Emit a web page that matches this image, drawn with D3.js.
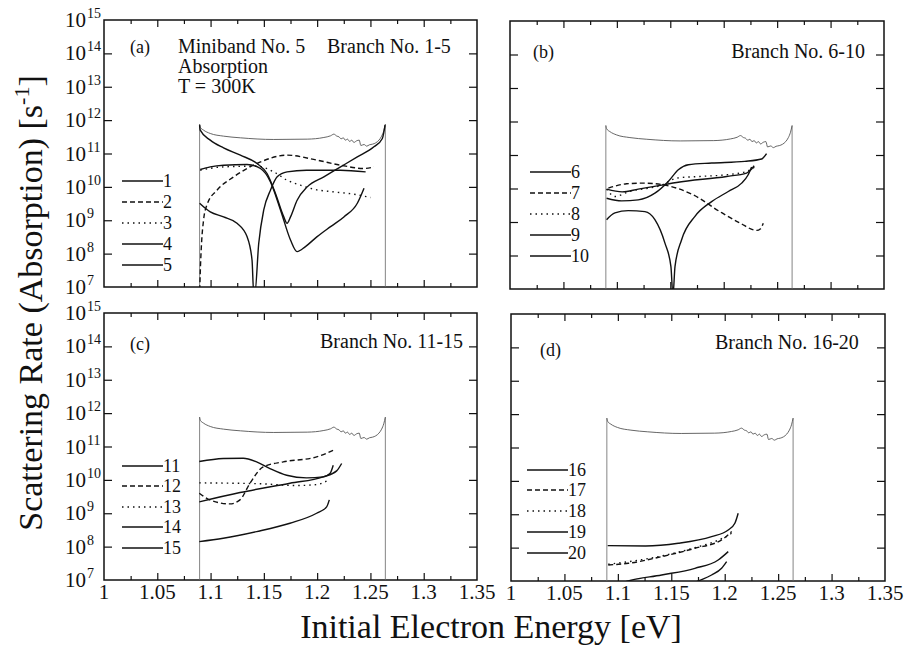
<!DOCTYPE html>
<html>
<head>
<meta charset="utf-8">
<script src="https://cdn.jsdelivr.net/npm/d3@7"></script>
<style>
  body { margin: 0; background: #fff; }
  svg text { font-family: "Liberation Serif", "Times New Roman", serif; fill: #111; }
</style>
</head>
<body>
<svg id="chart" width="905" height="649"></svg>
<script>
// every point is [initial energy (eV), log10 of the rate (s^-1)]
const totalRate = [[1.0897,11.88],[1.0905,11.78],[1.0934,11.70],[1.0997,11.60],[1.1122,11.52],[1.128,11.47],
  [1.1593,11.42],[1.1907,11.43],[1.2063,11.48],[1.2126,11.53],[1.2157,11.58],[1.2185,11.52],[1.2205,11.50],
  [1.2225,11.44],[1.2245,11.47],[1.2265,11.40],[1.2285,11.43],[1.2305,11.36],[1.2325,11.40],[1.2345,11.33],
  [1.237,11.38],[1.2395,11.40],[1.241,11.24],[1.244,11.27],[1.2465,11.22],[1.249,11.26],[1.252,11.28],
  [1.255,11.32],[1.258,11.40],[1.2605,11.52],[1.2625,11.68],[1.264,11.88]];

const branch1 = [[1.0897,11.85],[1.0903,11.70],[1.0997,11.40],[1.1122,11.17],[1.128,10.95],[1.1436,10.70],[1.153,10.40],
  [1.1609,9.80],[1.1687,9.10],[1.1718,8.91],[1.175,9.10],[1.1812,9.60],[1.1907,10.0],[1.2063,10.30],[1.222,10.60],
  [1.2377,10.90],[1.2533,11.20],[1.2612,11.45],[1.2637,11.85]];
const branch2 = [[1.0898,6.9],[1.0905,7.6],[1.0915,8.3],[1.0934,9.0],[1.0966,9.46],[1.106,9.90],[1.1217,10.30],
  [1.1436,10.70],[1.1718,10.95],[1.2,10.80],[1.222,10.65],[1.244,10.55],[1.2533,10.60]];
const branch3 = [[1.0903,10.50],[1.1122,10.60],[1.1436,10.62],[1.1593,10.45],[1.1718,10.20],[1.1844,10.05],
  [1.1969,9.93],[1.2157,9.85],[1.2345,9.78],[1.2502,9.68]];
const branch4 = [[1.0903,10.52],[1.0997,10.60],[1.1122,10.65],[1.1342,10.67],[1.1468,10.55],[1.1562,10.15],
  [1.1656,9.31],[1.175,8.41],[1.1812,8.06],[1.189,8.21],[1.2,8.51],[1.2126,8.81],[1.2251,9.10],[1.2377,9.51],[1.244,9.96]];
const branch5 = [[1.0897,9.51],[1.0997,9.25],[1.1122,9.10],[1.1248,8.91],[1.1342,8.51],[1.1389,7.81],[1.1405,6.8],
  [1.1415,6.8],[1.1452,8.31],[1.1499,9.31],[1.1562,9.90],[1.1625,10.30],[1.1718,10.45],[1.19,10.50],[1.222,10.50],[1.2455,10.45]];

const branch6 = [[1.0904,9.98],[1.105,9.90],[1.12,9.98],[1.1434,10.11],[1.1559,10.18],[1.2027,10.36],[1.2214,10.46],
  [1.2261,10.58],[1.2285,10.68]];
const branch7 = [[1.092,10.01],[1.1092,10.14],[1.125,10.16],[1.1434,10.11],[1.1715,9.81],[1.1964,9.31],[1.2152,8.97],
  [1.2308,8.75],[1.2345,8.80],[1.237,8.96]];
const branch8 = [[1.0904,9.98],[1.0982,9.76],[1.1107,9.90],[1.1434,10.12],[1.1559,10.31],[1.1777,10.36],[1.2027,10.41],
  [1.2214,10.51],[1.2308,10.68]];
const branch9 = [[1.0904,9.71],[1.1045,9.63],[1.12,9.66],[1.1356,9.86],[1.1481,10.21],[1.1575,10.56],[1.1669,10.71],
  [1.1887,10.76],[1.2198,10.81],[1.2355,10.88],[1.2401,11.04]];
const branch10 = [[1.0904,9.07],[1.0982,9.27],[1.1107,9.34],[1.1263,9.31],[1.1356,9.07],[1.145,8.37],[1.1506,7.67],
  [1.1525,6.8],[1.1544,7.67],[1.1606,8.47],[1.1731,9.17],[1.1887,9.61],[1.2043,9.91],[1.2168,10.16],[1.2229,10.41],[1.2261,10.64]];

const branch11 = [[1.0894,10.55],[1.1119,10.64],[1.1307,10.65],[1.1432,10.54],[1.1557,10.34],[1.1714,10.14],
  [1.1901,10.06],[1.2057,10.09],[1.212,10.19],[1.2151,10.44]];
const branch12 = [[1.0894,9.60],[1.0994,9.40],[1.1182,9.28],[1.1276,9.40],[1.137,9.90],[1.1494,10.39],[1.1682,10.54],
  [1.1995,10.69],[1.2167,10.91]];
const branch13 = [[1.0894,9.91],[1.12,9.90],[1.15,9.88],[1.18,9.83],[1.2,9.86],[1.2104,9.99]];
const branch14 = [[1.0894,9.34],[1.1276,9.62],[1.1745,9.90],[1.2057,10.09],[1.2183,10.27],[1.223,10.49]];
const branch15 = [[1.0894,8.15],[1.1119,8.25],[1.1432,8.45],[1.1745,8.70],[1.1995,9.00],[1.2089,9.19],[1.2114,9.40]];

const branch16 = [[1.0905,8.06],[1.1259,8.05],[1.1565,8.13],[1.1877,8.33],[1.2033,8.53],[1.2095,8.73],[1.2126,9.03]];
const branch17 = [[1.091,7.48],[1.1097,7.53],[1.141,7.73],[1.1721,7.98],[1.1971,8.23],[1.2065,8.48]];
const branch18 = [[1.091,7.50],[1.141,7.75],[1.1721,8.00],[1.1971,8.27],[1.2065,8.44],[1.2085,8.52]];
const branch19 = [[1.100,6.9],[1.1097,7.0],[1.141,7.18],[1.1721,7.38],[1.1939,7.63],[1.2033,7.88]];
const branch20 = [[1.168,6.9],[1.1752,7.0],[1.1877,7.18],[1.1971,7.38],[1.2018,7.58]];

const branchNames = [['1','2','3','4','5'], ['6','7','8','9','10'], ['11','12','13','14','15'], ['16','17','18','19','20']];
const branchData = [
  [branch1, branch2, branch3, branch4, branch5],
  [branch6, branch7, branch8, branch9, branch10],
  [branch11, branch12, branch13, branch14, branch15],
  [branch16, branch17, branch18, branch19, branch20]
];
const branchStyles = ['solid', 'dashed', 'dotted', 'solid', 'solid'];

const xTickLabels = ['1', '1.05', '1.1', '1.15', '1.2', '1.25', '1.3', '1.35'];
const yTickExponents = [7, 8, 9, 10, 11, 12, 13, 14, 15];

const dashes = { solid: null, dashed: '5,3', dotted: '1.5,4' };

// layout of the four panels
const panels = [
  { left: 104, right: 477, top: 20, bottom: 287, yLabels: true, xLabels: false,
    legendX: 122, legendY: [181, 202, 223, 244, 265],
    notes: [
      { t: '(a)', x: 130, y: 53, size: 18 },
      { t: 'Miniband No. 5', x: 178, y: 53, size: 20 },
      { t: 'Branch No. 1-5', x: 327, y: 53, size: 20 },
      { t: 'Absorption', x: 178, y: 73, size: 20 },
      { t: 'T = 300K', x: 178, y: 93, size: 20 }
    ] },
  { left: 510, right: 884, top: 21, bottom: 289, yLabels: false, xLabels: false,
    legendX: 530, legendY: [172, 193, 214, 235, 256],
    notes: [
      { t: '(b)', x: 533, y: 58, size: 18 },
      { t: 'Branch No. 6-10', x: 865, y: 58, size: 20, anchor: 'end' }
    ] },
  { left: 104, right: 477, top: 313, bottom: 580, yLabels: true, xLabels: true,
    legendX: 122, legendY: [466, 486, 507, 527, 548],
    notes: [
      { t: '(c)', x: 130, y: 350, size: 18 },
      { t: 'Branch No. 11-15', x: 320, y: 348, size: 20 }
    ] },
  { left: 511, right: 885, top: 314, bottom: 581, yLabels: false, xLabels: true,
    legendX: 527, legendY: [470, 490, 511, 532, 553],
    notes: [
      { t: '(d)', x: 540, y: 356, size: 18 },
      { t: 'Branch No. 16-20', x: 715, y: 349, size: 20 }
    ] }
];

const svg = d3.select('#chart');

function drawPanel(p, i) {
  const x = d3.scaleLinear().domain([1, 1.35]).range([p.left, p.right]);
  const y = d3.scaleLog().domain([1e7, 1e15]).range([p.bottom, p.top]);
  const g = svg.append('g');

  g.append('clipPath').attr('id', 'clip' + i)
    .append('rect')
    .attr('x', p.left).attr('y', p.top)
    .attr('width', p.right - p.left).attr('height', p.bottom - p.top);

  const minorTicks = d3.range(1, 14, 2).map(k => 1 + k * 0.025);
  const majorTicks = d3.range(1, 7).map(k => 1 + k * 0.05);
  const decades = yTickExponents.slice(1, -1).map(e => 10 ** e);

  const strip = sel => sel.call(s => s.select('.domain').remove())
    .selectAll('line').attr('stroke', '#111').attr('stroke-width', 1.2);

  g.append('g').attr('transform', `translate(0,${p.bottom})`)
    .call(d3.axisBottom(x).tickValues(minorTicks).tickSize(-4).tickFormat('')).call(strip);
  g.append('g').attr('transform', `translate(0,${p.bottom})`)
    .call(d3.axisBottom(x).tickValues(majorTicks).tickSize(-7).tickFormat('')).call(strip);
  g.append('g').attr('transform', `translate(0,${p.top})`)
    .call(d3.axisTop(x).tickValues(minorTicks).tickSize(-4).tickFormat('')).call(strip);
  g.append('g').attr('transform', `translate(0,${p.top})`)
    .call(d3.axisTop(x).tickValues(majorTicks).tickSize(-7).tickFormat('')).call(strip);
  g.append('g').attr('transform', `translate(${p.left},0)`)
    .call(d3.axisLeft(y).tickValues(decades).tickSize(-8).tickFormat('')).call(strip);
  g.append('g').attr('transform', `translate(${p.right},0)`)
    .call(d3.axisRight(y).tickValues(decades).tickSize(-8).tickFormat('')).call(strip);

  g.append('rect')
    .attr('x', p.left).attr('y', p.top)
    .attr('width', p.right - p.left).attr('height', p.bottom - p.top)
    .attr('fill', 'none').attr('stroke', '#111').attr('stroke-width', 1.5);

  const line = d3.line()
    .x(d => x(d[0]))
    .y(d => y(10 ** d[1]))
    .curve(d3.curveMonotoneX);

  const plot = g.append('g').attr('clip-path', `url(#clip${i})`);

  // total rate, with the vertical edges of the miniband
  const first = totalRate[0], last = totalRate[totalRate.length - 1];
  plot.selectAll('.edge').data([first, last]).join('line')
    .attr('x1', d => x(d[0])).attr('x2', d => x(d[0]))
    .attr('y1', d => y(10 ** d[1])).attr('y2', y(1e7))
    .attr('stroke', '#666').attr('stroke-width', 0.8);
  plot.append('path').datum(totalRate)
    .attr('d', line).attr('fill', 'none')
    .attr('stroke', '#555').attr('stroke-width', 0.9);

  branchData[i].forEach((pts, k) => {
    plot.append('path').datum(pts)
      .attr('d', line).attr('fill', 'none')
      .attr('stroke', '#111').attr('stroke-width', 1.4)
      .attr('stroke-dasharray', dashes[branchStyles[k]]);
  });

  // legend
  branchNames[i].forEach((name, k) => {
    const ly = p.legendY[k];
    g.append('line')
      .attr('x1', p.legendX).attr('x2', p.legendX + 41)
      .attr('y1', ly).attr('y2', ly)
      .attr('stroke', '#111').attr('stroke-width', 1.3)
      .attr('stroke-dasharray', dashes[branchStyles[k]]);
    g.append('text')
      .attr('x', p.legendX + 41).attr('y', ly + 6)
      .attr('font-size', 18).text(name);
  });

  p.notes.forEach(n => {
    g.append('text')
      .attr('x', n.x).attr('y', n.y)
      .attr('font-size', n.size)
      .attr('text-anchor', n.anchor || 'start')
      .text(n.t);
  });

  if (p.yLabels) {
    yTickExponents.forEach(e => {
      const ty = y(10 ** e);
      g.append('text').attr('x', 86).attr('y', ty + 7)
        .attr('font-size', 21).attr('text-anchor', 'end').text('10');
      g.append('text').attr('x', 87).attr('y', ty - 2)
        .attr('font-size', 14).text(e);
    });
  }

  if (p.xLabels) {
    xTickLabels.forEach(lab => {
      g.append('text').attr('x', x(+lab)).attr('y', p.bottom + 19)
        .attr('font-size', 21).attr('text-anchor', 'middle').text(lab);
    });
  }
}

panels.forEach(drawPanel);

// axis titles
svg.append('text')
  .attr('x', 491).attr('y', 638)
  .attr('font-size', 34).attr('text-anchor', 'middle')
  .text('Initial Electron Energy [eV]');

const yTitle = svg.append('text')
  .attr('transform', 'translate(42,303) rotate(-90)')
  .attr('font-size', 34).attr('text-anchor', 'middle');
yTitle.append('tspan').text('Scattering Rate (Absorption) [s');
yTitle.append('tspan').attr('font-size', 22).attr('dy', -13).text('-1');
yTitle.append('tspan').attr('dy', 13).text(']');
</script>
</body>
</html>
